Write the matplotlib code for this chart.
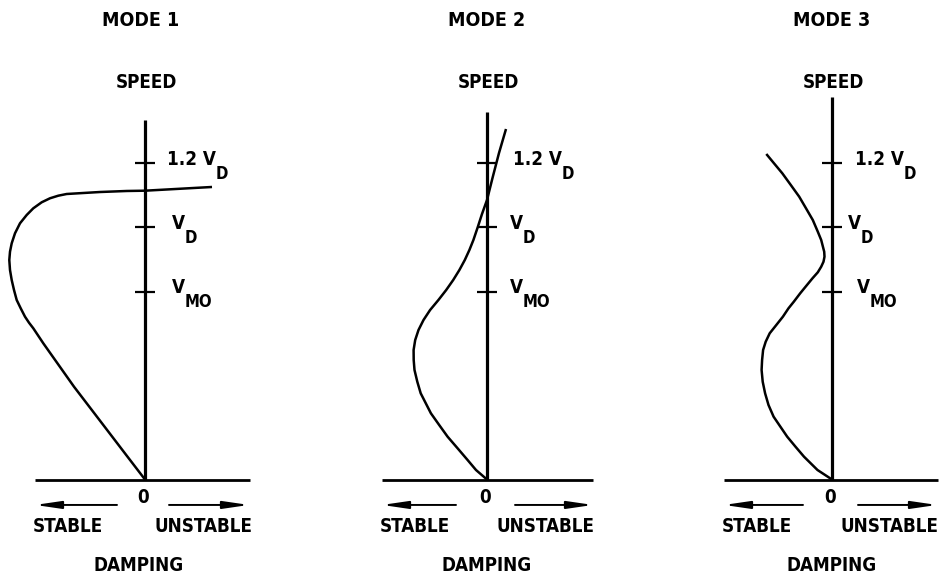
import matplotlib
matplotlib.use('Agg')
import matplotlib.pyplot as plt

plt.rcParams['font.family'] = ['DejaVu Sans']
plt.rcParams['font.stretch'] = 'condensed'
plt.rcParams['font.weight'] = 'bold'

# ---------------- data ----------------
modes = ['MODE 1', 'MODE 2', 'MODE 3']
speed_ticks = [0.8, 1.0, 1.2]                 # V/VD : VMO, VD, 1.2 VD
tick_main = ['V', 'V', '1.2 V']
tick_sub = ['MO', 'D', 'D']
base_speed = 0.2125                           # speed at the damping axis

mode1_damping = [0.0, -0.175, -0.43, -0.71, -1.017, -1.117,
                 -1.16, -1.20, -1.243, -1.283, -1.31, -1.333, -1.35, -1.357,
                 -1.35, -1.333, -1.30, -1.25, -1.183, -1.117, -1.033, -0.95,
                 -0.867, -0.783, -0.617, -0.45, -0.183, 0.0, 0.67]
mode1_speed = [0.2125, 0.2838, 0.3881, 0.5025, 0.6381, 0.6850,
               0.7025, 0.7213, 0.7475, 0.7734, 0.8047, 0.8359, 0.8672,
               0.8984, 0.9244, 0.9506, 0.9819, 1.0131, 1.0391, 1.0600, 1.0788,
               1.0913, 1.0994, 1.1047, 1.1078, 1.1109, 1.1141, 1.1150, 1.1266]

mode2_damping = [0.0, -0.11, -0.194, -0.294, -0.394, -0.478, -0.561, -0.612,
                 -0.663, -0.697, -0.725, -0.733, -0.734, -0.718, -0.685,
                 -0.635, -0.569, -0.486, -0.408, -0.338, -0.276, -0.222,
                 -0.176, -0.136, -0.092, -0.05, 0.0, 0.055, 0.12, 0.19]
mode2_speed = [0.2125, 0.2422, 0.2734, 0.3100, 0.3463, 0.3828, 0.4194, 0.4506,
               0.4819, 0.5181, 0.5547, 0.5859, 0.6172, 0.6484, 0.6797,
               0.7109, 0.7422, 0.7734, 0.8047, 0.8359, 0.8672, 0.8984,
               0.9297, 0.9609, 1.0016, 1.0422, 1.0859, 1.1547, 1.2328, 1.3078]

mode3_damping = [0.0, -0.145, -0.28, -0.365, -0.448, -0.516, -0.584, -0.635,
                 -0.669, -0.693, -0.704, -0.699, -0.689, -0.663, -0.623,
                 -0.557, -0.491, -0.435, -0.382, -0.318, -0.256, -0.195,
                 -0.142, -0.108, -0.085, -0.075, -0.078, -0.108, -0.142,
                 -0.192, -0.26, -0.328, -0.412, -0.497, -0.58, -0.657]
mode3_speed = [0.2125, 0.2422, 0.2838, 0.3150, 0.3463, 0.3775, 0.4088, 0.4453,
               0.4819, 0.5181, 0.5547, 0.5859, 0.6172, 0.6431, 0.6694,
               0.6953, 0.7213, 0.7475, 0.7681, 0.7944, 0.8181, 0.8413,
               0.8600, 0.8775, 0.8931, 0.9088, 0.9244, 0.9609, 0.9869,
               1.0234, 1.0600, 1.0963, 1.1328, 1.1694, 1.2006, 1.2297]

curves = [(mode1_damping, mode1_speed),
          (mode2_damping, mode2_speed),
          (mode3_damping, mode3_speed)]

# ---------------- layout / style ----------------
W, H = 943, 579
axis_px = [145, 487, 832]            # pixel x of each speed axis
px_per_unit = 100.0
ylim = (-0.0984, 1.7109)
axis_top = [1.336, 1.362, 1.408]
base_ext = [(-1.10, 1.05), (-1.05, 1.06), (-1.08, 1.06)]
arrow_l = [(-0.28, -1.10), (-0.31, -1.05), (-0.29, -1.08)]
arrow_r = [(0.24, 1.04), (0.28, 1.06), (0.26, 1.05)]
label_dx = [[0.27, 0.27, 0.22], [0.23, 0.23, 0.26], [0.25, 0.16, 0.23]]
stable_x = [-0.77, -0.725, -0.75]
unstable_x = [0.58, 0.585, 0.58]
damping_x = [-0.06, 0.0, 0.0]
title_x = [-0.04, 0.0, 0.0]
speed_x = [0.01, 0.01, 0.01]

fig = plt.figure(figsize=(W / 100, H / 100), dpi=100)

for i in range(3):
    ax = fig.add_axes([0, 0, 1, 1])
    ax.patch.set_alpha(0)
    ax.set_xlim(-axis_px[i] / px_per_unit, (W - axis_px[i]) / px_per_unit)
    ax.set_ylim(*ylim)
    ax.axis('off')

    # speed axis
    ax.plot([0, 0], [base_speed, axis_top[i]], color='k', lw=2.3,
            solid_capstyle='butt')
    # damping baseline
    ax.plot(list(base_ext[i]), [base_speed, base_speed], color='k', lw=2.0,
            solid_capstyle='butt')
    # speed ticks and labels
    for j, v in enumerate(speed_ticks):
        ax.plot([-0.10, 0.10], [v, v], color='k', lw=1.6, solid_capstyle='butt')
        t = ax.text(label_dx[i][j], v + 0.012, tick_main[j], fontsize=13.5,
                    ha='left', va='center')
        ax.annotate(tick_sub[j], xy=(1, 0), xycoords=t, xytext=(0, 3),
                    textcoords='offset points', fontsize=12,
                    ha='left', va='top')
    # curve
    d, s = curves[i]
    ax.plot(d, s, color='k', lw=1.8, solid_joinstyle='round',
            solid_capstyle='butt')

    # arrows
    ay = 0.133
    for (x0, x1) in (arrow_l[i], arrow_r[i]):
        ax.annotate('', xy=(x1, ay), xytext=(x0, ay),
                    arrowprops=dict(arrowstyle='-|>,head_length=1.1,head_width=0.16',
                                    color='k', lw=1.4, mutation_scale=14,
                                    shrinkA=0, shrinkB=0))
    ax.text(-0.02, 0.155, '0', fontsize=13.5, ha='center', va='center')
    ax.text(stable_x[i], 0.067, 'STABLE', fontsize=13.5, ha='center', va='center')
    ax.text(unstable_x[i], 0.067, 'UNSTABLE', fontsize=13.5, ha='center', va='center')
    ax.text(damping_x[i], -0.055, 'DAMPING', fontsize=13.5, ha='center', va='center')
    ax.text(speed_x[i], 1.4516, 'SPEED', fontsize=13.5, ha='center', va='center')
    ax.text(title_x[i], 1.6484, modes[i], fontsize=14, ha='center', va='center')

fig.savefig('out.png', dpi=100)
